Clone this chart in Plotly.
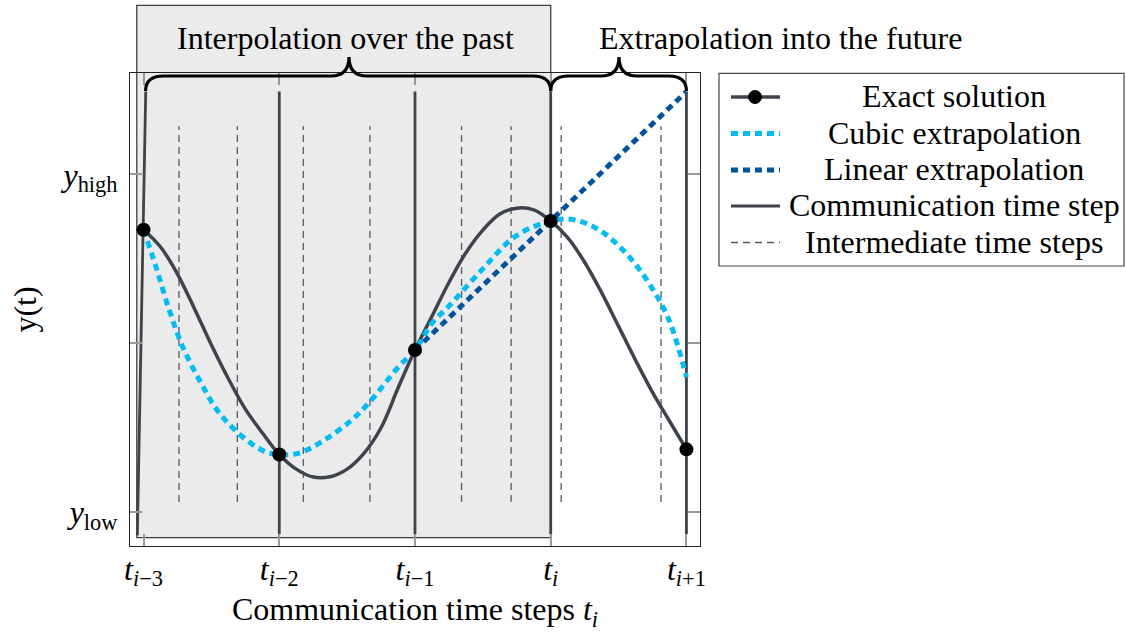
import plotly.graph_objects as go

# ---------------- data ----------------
tick_pos = [0, 1, 2, 3, 4]
tick_text = ["<i>t</i><sub><i>i</i>−3</sub>", "<i>t</i><sub><i>i</i>−2</sub>",
             "<i>t</i><sub><i>i</i>−1</sub>", "<i>t</i><sub><i>i</i></sub>",
             "<i>t</i><sub><i>i</i>+1</sub>"]
ytick_pos = [-1, 0, 1]
ytick_text = ["<i>y</i><sub>low</sub>", "", "<i>y</i><sub>high</sub>"]

exact_x = [0.0, 0.125, 0.25, 0.375, 0.5, 0.625, 0.75, 0.875, 1.0, 1.125, 1.25, 1.375, 1.5,
           1.625, 1.75, 1.875, 2.0, 2.125, 2.25, 2.375, 2.5, 2.625, 2.75, 2.875, 3.0, 3.125,
           3.25, 3.375, 3.5, 3.625, 3.75, 3.875, 4.0]
exact_y = [0.672, 0.570, 0.410, 0.205, -0.010, -0.210, -0.390, -0.530, -0.658, -0.745,
           -0.792, -0.790, -0.745, -0.650, -0.500, -0.265, -0.040, 0.160, 0.360, 0.536,
           0.670, 0.765, 0.800, 0.790, 0.724, 0.625, 0.480, 0.300, 0.100, -0.100, -0.290,
           -0.460, -0.628]

node_x = [0, 1, 2, 3, 4]
node_y = [0.672, -0.658, -0.040, 0.724, -0.628]

cubic_x = [0.0, 0.090, 0.188, 0.286, 0.409, 0.556, 0.753, 0.900, 1.0, 1.145, 1.342, 1.538,
           1.661, 1.882, 2.0, 2.127, 2.250, 2.495, 2.741, 3.0, 3.158, 3.354, 3.551, 3.722,
           3.870, 4.0]
cubic_y = [0.672, 0.456, 0.200, -0.017, -0.214, -0.411, -0.569, -0.642, -0.658, -0.650,
           -0.568, -0.451, -0.352, -0.136, -0.040, 0.121, 0.220, 0.437, 0.634, 0.724, 0.733,
           0.673, 0.536, 0.358, 0.141, -0.200]

linear_x = [2, 3, 4]
linear_y = [-0.040, 0.724, 1.490]

comm_steps = [1, 2, 3, 4]
intermediate_steps = [0.261, 0.691, 1.177, 1.668, 2.343, 2.708, 3.077, 3.813]

legend_labels = ["Exact solution", "Cubic extrapolation", "Linear extrapolation",
                 "Communication time step", "Intermediate time steps"]

# ---------------- styling / geometry ----------------
W, H = 1126, 632
ML, MR, MT, MB = 130, 426, 73, 86
PW, PH = W - ML - MR, H - MT - MB
X0, X1 = -0.1, 4.1
Y0, Y1 = -1.2, 1.6

C_EXACT = "#3f434b"
C_CUBIC = "#00bdf6"
C_LINEAR = "#00549f"
C_INTER = "#555a60"
FONT = "'Liberation Serif', 'Times New Roman', 'DejaVu Serif', serif"
FS = 32


def d2px(x, y):
    return ML + (x - X0) / (X1 - X0) * PW, MT + (Y1 - y) / (Y1 - Y0) * PH


def px2p(px, py):
    return (px - ML) / PW, (H - MB - py) / PH


def d2p(x, y):
    return px2p(*d2px(x, y))


fig = go.Figure()

# intermediate time steps
ix, iy = [], []
for v in intermediate_steps:
    ix += [v, v, None]
    iy += [-0.94, 1.285, None]
fig.add_trace(go.Scatter(x=ix, y=iy, mode="lines", showlegend=False, hoverinfo="skip",
                         line=dict(color=C_INTER, width=1.3, dash="7px,5px")))

# communication time steps
cx, cy = [-0.046, 0.016, None], [-1.137, 1.49, None]
for v in comm_steps:
    cx += [v, v, None]
    cy += [-1.131, 1.49, None]
fig.add_trace(go.Scatter(x=cx, y=cy, mode="lines", showlegend=False, hoverinfo="skip",
                         line=dict(color=C_EXACT, width=2.8)))

# exact solution curve
fig.add_trace(go.Scatter(x=exact_x, y=exact_y, mode="lines", line_shape="spline",
                         showlegend=False, line=dict(color=C_EXACT, width=3.5)))
# cubic extrapolation
fig.add_trace(go.Scatter(x=cubic_x, y=cubic_y, mode="lines", line_shape="spline",
                         showlegend=False, line=dict(color=C_CUBIC, width=5, dash="7px,5px")))
# linear extrapolation
fig.add_trace(go.Scatter(x=linear_x, y=linear_y, mode="lines", showlegend=False,
                         line=dict(color=C_LINEAR, width=5, dash="7px,5px")))
# exact solution nodes
fig.add_trace(go.Scatter(x=node_x, y=node_y, mode="markers", showlegend=False,
                         marker=dict(color="black", size=14)))

shapes = []
annotations = []

# grey "past" box (extends above the axes)
bx0, by0 = d2p(-0.05, -1.15)
bx1, by1 = d2p(3.0, 2.0)
shapes.append(dict(type="rect", xref="paper", yref="paper", x0=bx0, y0=by0, x1=bx1, y1=by1,
                   fillcolor="#ebebeb", line=dict(color="#3a3d42", width=1.3), layer="below"))


def brace_path(xa, xb, xm, yb=91, yh=76, yt=57, r=18):
    pts = [("M", [(xa, yb)]), ("Q", [(xa, yh), (xa + r, yh)]), ("L", [(xm - r, yh)]),
           ("Q", [(xm, yh), (xm, yt)]), ("Q", [(xm, yh), (xm + r, yh)]),
           ("L", [(xb - r, yh)]), ("Q", [(xb, yh), (xb, yb)])]
    s = ""
    for cmd, ps in pts:
        s += cmd + " " + " ".join("%.5f,%.5f" % px2p(px, py) for px, py in ps) + " "
    return s.strip()


p0 = d2px(0, 0)[0] + 2
p3 = d2px(3, 0)[0]
p4 = d2px(4, 0)[0]
shapes.append(dict(type="path", xref="paper", yref="paper",
                   path=brace_path(p0, p3, 349), line=dict(color="black", width=3.2)))
shapes.append(dict(type="path", xref="paper", yref="paper",
                   path=brace_path(p3, p4, 619), line=dict(color="black", width=3.2)))

for txt, cxp in [("Interpolation over the past", 345), ("Extrapolation into the future", 780)]:
    ax, ay = px2p(cxp, 38)
    annotations.append(dict(text=txt, x=ax, y=ay, xref="paper", yref="paper",
                            showarrow=False, xanchor="center", yanchor="middle",
                            font=dict(family=FONT, size=FS, color="black")))

# manual legend (centered labels like the original)
lx0, ly0 = px2p(719, 266)
lx1, ly1 = px2p(1124, 73.3)
shapes.append(dict(type="rect", xref="paper", yref="paper", x0=lx0, y0=ly0, x1=lx1, y1=ly1,
                   fillcolor="white", line=dict(color="#444", width=1.2)))
rows = [97, 133.5, 170, 206, 242.5]
styles = [dict(color=C_EXACT, width=3.5), dict(color=C_CUBIC, width=5, dash="7px,5px"),
          dict(color=C_LINEAR, width=5, dash="7px,5px"), dict(color=C_EXACT, width=2.8),
          dict(color=C_INTER, width=1.3, dash="7px,5px")]
for lab, ry, st in zip(legend_labels, rows, styles):
    xa, ya = px2p(731, ry)
    xb, _ = px2p(780, ry)
    shapes.append(dict(type="line", xref="paper", yref="paper", x0=xa, y0=ya, x1=xb, y1=ya,
                       line=st))
    tx, ty = px2p(954, ry - 1)
    annotations.append(dict(text=lab, x=tx, y=ty, xref="paper", yref="paper",
                            showarrow=False, xanchor="center", yanchor="middle",
                            font=dict(family=FONT, size=FS, color="black")))
mx0, my0 = px2p(748.5, 97 + 6.5)
mx1, my1 = px2p(761.5, 97 - 6.5)
shapes.append(dict(type="circle", xref="paper", yref="paper", x0=mx0, y0=my0, x1=mx1, y1=my1,
                   fillcolor="black", line=dict(color="black", width=1)))

axis_common = dict(showgrid=False, zeroline=False, showline=True, linecolor="#222",
                   linewidth=1.3, mirror="allticks", ticks="inside", ticklen=12,
                   tickcolor="#9a9a9a", tickwidth=1.5, automargin=False,
                   tickfont=dict(family=FONT, size=FS, color="black"))

fig.update_layout(
    width=W, height=H,
    margin=dict(l=ML, r=MR, t=MT, b=MB, pad=0, autoexpand=False),
    paper_bgcolor="white", plot_bgcolor="rgba(0,0,0,0)",
    xaxis=dict(range=[X0, X1], tickvals=tick_pos, ticktext=tick_text,
               ticklabelstandoff=-6,
               title=dict(text="Communication time steps <i>t</i><sub><i>i</i></sub>",
                          font=dict(family=FONT, size=FS, color="black"), standoff=10),
               **axis_common),
    yaxis=dict(range=[Y0, Y1], tickvals=ytick_pos, ticktext=ytick_text,
               ticklabelstandoff=5,
               title=dict(text="y(t)", font=dict(family=FONT, size=FS, color="black"),
                          standoff=14),
               **axis_common),
    shapes=shapes, annotations=annotations, showlegend=False,
)

fig.write_html("out.html")
